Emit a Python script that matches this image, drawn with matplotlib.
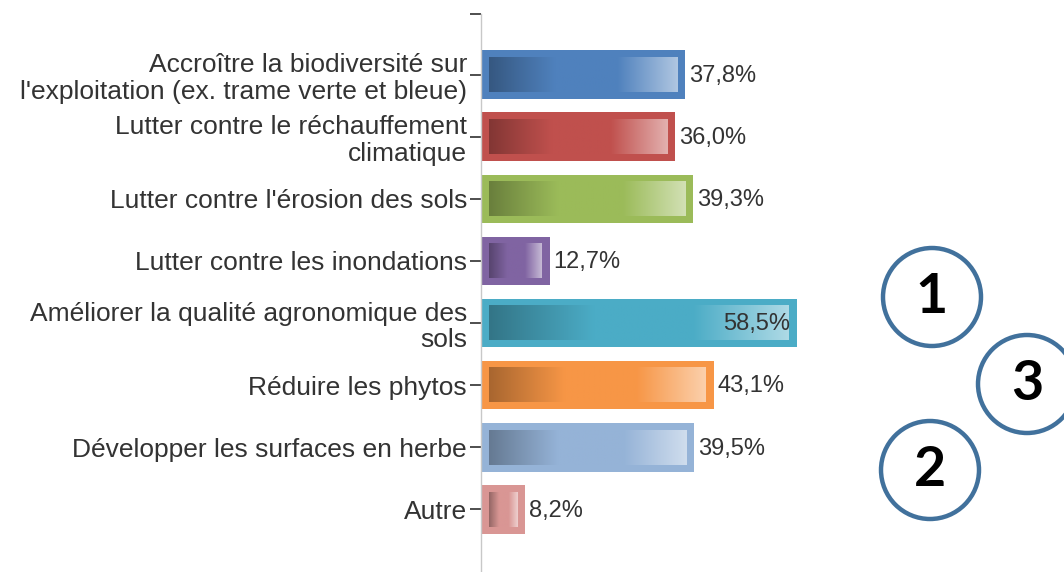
import matplotlib
matplotlib.use("Agg")
import matplotlib.pyplot as plt
import numpy as np
from matplotlib.patches import Circle
from matplotlib.colors import to_rgb

categories = [
    "Accroître la biodiversité sur\nl'exploitation (ex. trame verte et bleue)",
    "Lutter contre le réchauffement\nclimatique",
    "Lutter contre l'érosion des sols",
    "Lutter contre les inondations",
    "Améliorer la qualité agronomique des\nsols",
    "Réduire les phytos",
    "Développer les surfaces en herbe",
    "Autre",
]
values = [37.8, 36.0, 39.3, 12.7, 58.5, 43.1, 39.5, 8.2]
bar_colors = ["#4F81BD", "#C0504D", "#9BBB59", "#8064A2",
              "#4BACC6", "#F79646", "#95B3D7", "#D99694"]
circle_labels = ["1", "3", "2"]

W, H = 1064, 572
fig = plt.figure(figsize=(W / 100, H / 100), dpi=100)
fig.patch.set_facecolor("white")

x0 = 481
ax = fig.add_axes([x0 / W, 0, (W - x0) / W, 1])
px_per_unit = 5.40
py_per_cat = 62.14
ax.set_xlim(0, (W - x0) / px_per_unit)
ax.set_ylim((H - 74.5) / py_per_cat, -74.5 / py_per_cat)

y = np.arange(len(categories))
bar_h = 0.78
ax.barh(y, values, height=bar_h, color=bar_colors, edgecolor="none", zorder=2)

# gradient overlay inside each bar
dx = 8 / px_per_unit
dy = 7 / py_per_cat
n = 256
t = np.linspace(0, 1, n)

def grad(base):
    b = np.array(to_rgb(base))
    dark = b * 0.68
    light = b + (1 - b) * 0.55
    out = np.zeros((n, 3))
    for i, f in enumerate(t):
        if f < 0.35:
            a = f / 0.35
            out[i] = dark * (1 - a) + b * a
        elif f < 0.68:
            out[i] = b
        else:
            a = (f - 0.68) / 0.32
            out[i] = b * (1 - a) + light * a
    return out[None, :, :]

for yi, v, c in zip(y, values, bar_colors):
    ax.imshow(grad(c), extent=(dx, v - dx, yi + bar_h / 2 - dy, yi - bar_h / 2 + dy),
              aspect="auto", interpolation="bilinear", zorder=3)

txt_color = "#333333"
font = "Liberation Sans"
for yi, v in zip(y, values):
    s = f"{v:.1f}%".replace(".", ",")
    if v > 50:
        ax.text(v - 1.2, yi + 0.02, s, ha="right", va="center", fontsize=17,
                family=font, color=txt_color, zorder=4)
    else:
        ax.text(v + 0.7, yi + 0.02, s, ha="left", va="center", fontsize=17,
                family=font, color=txt_color, zorder=4)

ax.set_yticks(y)
ax.set_yticklabels(categories, fontsize=19, family=font, color=txt_color,
                   linespacing=1.15)
ax.set_yticks([-60.5 / py_per_cat], minor=True)
ax.tick_params(axis="y", which="both", length=8, width=1.3, color="#404040",
               pad=2, left=True)
ax.set_xticks([])
for side in ["top", "right", "bottom"]:
    ax.spines[side].set_visible(False)
ax.spines["left"].set_color("#c8c8c8")
ax.spines["left"].set_linewidth(1.0)
ax.spines["left"].set_bounds(8.1, -60.5 / py_per_cat)
ax.set_facecolor("none")

# circled annotations on the right
ov = fig.add_axes([0, 0, 1, 1])
ov.set_xlim(0, W)
ov.set_ylim(H, 0)
ov.axis("off")
ov.patch.set_alpha(0)
centers = [(932, 297), (1027, 384), (930, 470)]
for (cx, cy), lab in zip(centers, circle_labels):
    ov.add_patch(Circle((cx, cy), 49, fill=False, edgecolor="#41719C", linewidth=3.2))
    ov.text(cx, cy, lab, ha="center", va="center", fontsize=40, fontweight="bold",
            family="Lato", color="black")

fig.savefig("out.png", dpi=100, facecolor="white")
